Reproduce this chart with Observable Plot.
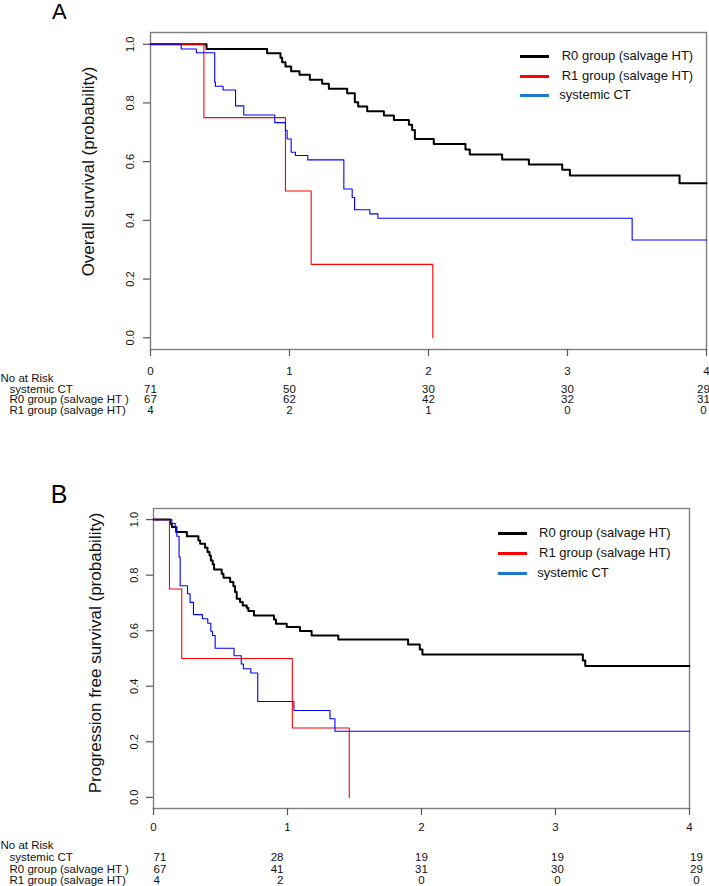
<!DOCTYPE html>
<html><head><meta charset="utf-8">
<script src="https://cdn.jsdelivr.net/npm/d3@7"></script>
<script src="https://cdn.jsdelivr.net/npm/@observablehq/plot@0.6"></script>
<style>
body{margin:0;background:#fff;}
#wrap{position:relative;width:709px;height:886px;overflow:hidden;font-family:"Liberation Sans",Arial,Helvetica,sans-serif;background:#fff;}
.abs{position:absolute;left:0;}
.plabel{position:absolute;color:#000;}
.legtxt{position:absolute;font-size:13px;line-height:13px;color:#111;white-space:nowrap;}
.legline{position:absolute;height:3px;width:29px;}
</style></head><body><div id="wrap"></div>
<script>
const FONT = '"Liberation Sans", Arial, Helvetica, sans-serif';

// ---- data ----
const xTicks = [0, 1, 2, 3, 4];
const yTicks = [0, 0.2, 0.4, 0.6, 0.8, 1.0];
const groupNames = ["systemic CT", "R0 group (salvage HT )", "R1 group (salvage HT)"];
const riskHeader = "No at Risk";
const legendNames = ["R0 group (salvage HT)", "R1 group (salvage HT)", "systemic CT"];
const titleA = "Overall survival (probability)";
const titleB = "Progression free survival (probability)";

// Overall survival (panel A): [years, survival probability]
const osR0 = [[0,1],[0.403,0.984],[0.839,0.969],[0.935,0.954],[0.947,0.939],[0.971,0.924],[1.012,0.908],[1.072,0.896],[1.146,0.879],[1.235,0.865],[1.283,0.848],[1.415,0.833],[1.470,0.802],[1.494,0.788],[1.559,0.772],[1.679,0.757],[1.751,0.742],[1.859,0.726],[1.882,0.708],[1.902,0.677],[2.038,0.660],[2.266,0.641],[2.297,0.624],[2.530,0.607],[2.722,0.590],[2.962,0.572],[3.017,0.553],[3.806,0.526],[4,0.526]];
const osR1 = [[0,1],[0.384,0.75],[0.971,0.5],[1.156,0.25],[2.031,0]];
const osCT = [[0,1],[0.221,0.984],[0.330,0.971],[0.462,0.871],[0.467,0.857],[0.522,0.844],[0.612,0.790],[0.671,0.759],[0.894,0.733],[0.971,0.706],[0.983,0.677],[1.012,0.632],[1.043,0.621],[1.132,0.606],[1.391,0.507],[1.451,0.478],[1.468,0.436],[1.578,0.422],[1.636,0.407],[3.465,0.333],[4,0.333]];

// Progression free survival (panel B)
const pfsR0 = [[0,1],[0.124,0.985],[0.137,0.973],[0.169,0.955],[0.249,0.940],[0.335,0.925],[0.348,0.913],[0.385,0.899],[0.403,0.883],[0.418,0.871],[0.428,0.853],[0.442,0.839],[0.452,0.820],[0.509,0.805],[0.522,0.791],[0.572,0.775],[0.596,0.760],[0.609,0.739],[0.621,0.715],[0.646,0.703],[0.666,0.691],[0.696,0.682],[0.708,0.671],[0.750,0.655],[0.899,0.640],[0.914,0.625],[0.994,0.613],[1.093,0.599],[1.180,0.583],[1.379,0.568],[1.900,0.550],[1.987,0.532],[2.007,0.514],[3.204,0.493],[3.222,0.473],[4,0.473]];
const pfsR1 = [[0,1],[0.119,0.75],[0.211,0.5],[1.036,0.25],[1.461,0]];
const pfsCT = [[0,1],[0.137,0.986],[0.162,0.973],[0.174,0.940],[0.191,0.865],[0.199,0.762],[0.254,0.733],[0.273,0.702],[0.298,0.658],[0.365,0.643],[0.405,0.627],[0.428,0.598],[0.440,0.583],[0.460,0.537],[0.601,0.510],[0.655,0.480],[0.671,0.463],[0.726,0.448],[0.778,0.345],[1.048,0.313],[1.317,0.283],[1.354,0.238],[4,0.238]];

// Numbers at risk
const riskTimes = [0, 1, 2, 3, 4];
const riskA_CT = [71, 50, 30, 30, 29];
const riskA_R0 = [67, 62, 42, 32, 31];
const riskA_R1 = [4, 2, 1, 0, 0];
const riskB_CT = [71, 28, 19, 19, 19];
const riskB_R0 = [67, 41, 31, 30, 29];
const riskB_R1 = [4, 2, 0, 0, 0];

const colors = {R0: "#000000", R1: "#ff0000", CT: "#0000ff", CTlegend: "#1e78d2"};

// ---- builders ----
function survivalPanel(cfg) {
  const curves = [
    {data: cfg.r0, color: colors.R0, width: 2},
    {data: cfg.r1, color: colors.R1, width: 1.1},
    {data: cfg.ct, color: colors.CT, width: 1.1}
  ];
  return Plot.plot({
    width: 709, height: cfg.height,
    marginTop: cfg.mTop, marginBottom: cfg.height - cfg.frameBottom,
    marginLeft: cfg.mLeft, marginRight: cfg.mRight,
    x: {domain: [0, 4]},
    y: {domain: [-0.04, 1.04]},
    style: {fontFamily: FONT, background: "transparent", overflow: "visible", color: "#111"},
    marks: [
      Plot.frame({stroke: "#7f7f7f", strokeWidth: 1.4}),
      Plot.axisX({ticks: xTicks, tickSize: 7, tickFormat: () => "", label: null, stroke: "#555", strokeWidth: 1.2}),
      Plot.axisY({ticks: yTicks, tickSize: 7, tickFormat: () => "", label: null, stroke: "#555", strokeWidth: 1.2}),
      Plot.text(xTicks, {x: d => d, frameAnchor: "bottom", dy: cfg.xLabDy, text: d => String(d), fontSize: 11.5, fill: "#111"}),
      Plot.text(yTicks, {y: d => d, frameAnchor: "left", dx: cfg.yLabDx, rotate: -90, textAnchor: "middle", lineAnchor: "bottom", text: d => d.toFixed(1), fontSize: 11, fill: "#111"}),
      Plot.text([cfg.title], {frameAnchor: "left", dx: cfg.titleDx, dy: cfg.titleDy, rotate: -90, textAnchor: "middle", lineAnchor: "bottom", text: d => d, fontSize: 17, fill: "#111"}),
      ...curves.map(c => Plot.line(c.data, {x: d => d[0], y: d => d[1], stroke: c.color, strokeWidth: c.width, curve: "step-after"}))
    ]
  });
}

function riskTable(cfg) {
  const counts = [cfg.ct, cfg.r0, cfg.r1];
  const data = groupNames.flatMap((g, gi) => counts[gi].map((n, i) => ({row: g, t: riskTimes[i], n, i})));
  const marks = [
    Plot.text([riskHeader], {y: d => d, frameAnchor: "left", dx: -cfg.mLeft, textAnchor: "start", text: d => d, fontSize: 11.5, fill: "#111"}),
    Plot.text(groupNames, {y: d => d, frameAnchor: "left", dx: -cfg.mLeft + 9, textAnchor: "start", text: d => d, fontSize: 11.5, fill: "#111"})
  ];
  cfg.cols.forEach((c, k) => {
    marks.push(Plot.text(data.filter(d => d.i === k), {x: "t", y: "row", text: d => String(d.n), textAnchor: c.anchor, dx: c.dx, fontSize: 11.5, fill: "#111"}));
  });
  return Plot.plot({
    width: 709, height: cfg.height,
    marginTop: 0, marginBottom: 0, marginLeft: cfg.mLeft, marginRight: cfg.mRight,
    x: {domain: [0, 4], axis: null},
    y: {type: "ordinal", domain: [riskHeader, ...groupNames], range: cfg.ys, axis: null},
    style: {fontFamily: FONT, background: "transparent", overflow: "visible"},
    marks
  });
}

const wrap = document.getElementById("wrap");
function place(el, top) { el.classList.add("abs"); el.style.top = top + "px"; wrap.appendChild(el); }

function legend(xLine, xText, xTextCT, ys) {
  const cols = [colors.R0, colors.R1, colors.CTlegend];
  legendNames.forEach((name, i) => {
    const ln = document.createElement("div");
    ln.className = "legline";
    ln.style.left = xLine + "px"; ln.style.top = (ys[i] - 1.5) + "px"; ln.style.background = cols[i];
    wrap.appendChild(ln);
    const tx = document.createElement("div");
    tx.className = "legtxt";
    tx.textContent = name;
    tx.style.left = (i === 2 ? xTextCT : xText) + "px";
    tx.style.top = (ys[i] - 7.3) + "px";
    wrap.appendChild(tx);
  });
}
function panelLabel(txt, left, top, size, lh) {
  const d = document.createElement("div");
  d.className = "plabel"; d.textContent = txt;
  d.style.left = left + "px"; d.style.top = top + "px";
  d.style.fontSize = size + "px"; d.style.lineHeight = lh + "px";
  wrap.appendChild(d);
}

// Panel A
place(survivalPanel({r0: osR0, r1: osR1, ct: osCT, title: titleA, height: 380, mTop: 32, frameBottom: 349, mLeft: 150, mRight: 3, xLabDy: 25, titleDx: -57, titleDy: -19.5, yLabDx: -16.7}), 0);
place(riskTable({ct: riskA_CT, r0: riskA_R0, r1: riskA_R1, height: 70, ys: [25.5, 36.5, 47, 57.5], mLeft: 150, mRight: 3,
  cols: [{anchor: "middle", dx: 0}, {anchor: "middle", dx: 0}, {anchor: "middle", dx: 0}, {anchor: "middle", dx: 0}, {anchor: "middle", dx: -3}]}), 352);
legend(520, 561.7, 559.3, [56, 76, 95]);
panelLabel("A", 52, 0, 22, 24);

// Panel B
place(survivalPanel({r0: pfsR0, r1: pfsR1, ct: pfsCT, title: titleB, height: 380, mTop: 48, frameBottom: 348, mLeft: 153, mRight: 20, xLabDy: 22, titleDx: -52.6, titleDy: -5.5, yLabDx: -15.3}), 460);
place(riskTable({ct: riskB_CT, r0: riskB_R0, r1: riskB_R1, height: 54, ys: [13, 24.7, 36.4, 48], mLeft: 153, mRight: 20,
  cols: [{anchor: "start", dx: 0}, {anchor: "end", dx: -4}, {anchor: "middle", dx: 0}, {anchor: "middle", dx: 2}, {anchor: "middle", dx: 7}]}), 832);
legend(498, 539, 537.3, [533.5, 553.5, 573.3]);
panelLabel("B", 50.7, 484.3, 25, 20);
</script></body></html>
